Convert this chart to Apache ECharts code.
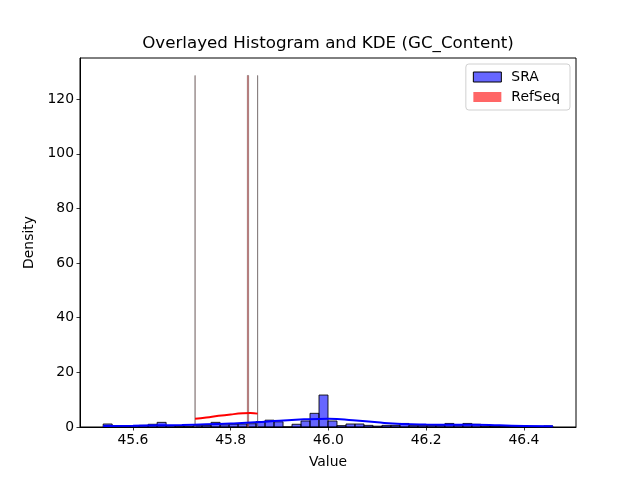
<!DOCTYPE html>
<html>
<head>
<meta charset="utf-8">
<script src="https://cdn.jsdelivr.net/npm/echarts@6/dist/echarts.min.js"></script>
<style>
  html, body { margin: 0; padding: 0; background: #fff; }
  #grafico { width: 640px; height: 480px; }
</style>
</head>
<body>
<div id="grafico"></div>
<script>
	// DADOS DO GRAFICO
	var xTicks = [45.6, 45.8, 46.0, 46.2, 46.4];
	var yTicks = [0, 20, 40, 60, 80, 100, 120];

	// histograma SRA: 50 bins
	var sraBinStart = 45.539;
	var sraBinWidth = 0.0184;
	var sraHeights = [
		1.1, 0.3, 0.3, 0.5, 0.6, 1.0, 1.7, 0.5, 0.3, 0.3,
		0.5, 0.6, 1.7, 0.8, 1.0, 1.1, 1.2, 2.0, 2.5, 1.9,
		0.0, 1.0, 2.2, 5.0, 11.7, 2.2, 0.5, 1.1, 1.1, 0.6,
		0.3, 0.6, 0.6, 1.3, 0.5, 0.5, 0.5, 0.5, 1.3, 0.7,
		1.3, 1.0, 0.3, 0.2, 0.2, 0.2, 0.2, 0.2, 0.2, 0.4
	];

	// histograma RefSeq: barras estreitas [inicio, fim, altura]
	var refBins = [
		[45.7268, 45.7272, 128.7],
		[45.8340, 45.8366, 128.7],
		[45.8548, 45.8552, 128.7]
	];

	// curvas KDE
	var sraKde = [
		[45.539, 0.4], [45.60, 0.5], [45.65, 0.6], [45.70, 0.75], [45.75, 1.0],
		[45.80, 1.3], [45.85, 1.7], [45.90, 2.3], [45.95, 2.8], [46.00, 3.0],
		[46.05, 2.5], [46.10, 1.7], [46.15, 1.1], [46.20, 0.9], [46.25, 0.85],
		[46.30, 0.8], [46.35, 0.6], [46.40, 0.4], [46.459, 0.25]
	];
	var refKde = [
		[45.727, 3.0], [45.75, 3.5], [45.775, 4.1], [45.80, 4.6],
		[45.825, 5.0], [45.84, 5.1], [45.855, 4.9]
	];

	// monta os bins do SRA
	var sraBins = sraHeights.map(function(h, i){
		var x0 = sraBinStart + sraBinWidth * i;
		return [x0, x0 + sraBinWidth, h];
	});

	var fonte = 'DejaVu Sans';

	// desenha um retangulo do histograma
	var desenhaBarra = function(params, api){
		var p0 = api.coord([api.value(0), 0]);
		var p1 = api.coord([api.value(1), api.value(2)]);
		return {
			type: 'rect',
			shape: { x: p0[0], y: p1[1], width: p1[0] - p0[0], height: p0[1] - p1[1] },
			style: api.style()
		};
	};

	var myChart = echarts.init(document.getElementById('grafico'));

	var option = {
		animation: false,
		backgroundColor: '#fff',
		grid: {
			left: 80, right: 64, top: 58, bottom: 53,
			show: true, borderColor: '#000', borderWidth: 1, backgroundColor: 'transparent'
		},
		graphic: [{
			type: 'text',
			x: 328, y: 44,
			style: {
				text: 'Overlayed Histogram and KDE (GC_Content)',
				font: '16.7px "DejaVu Sans"',
				fill: '#000',
				textAlign: 'center',
				textVerticalAlign: 'middle'
			}
		}],
		legend: {
			orient: 'vertical',
			right: 70, top: 64,
			padding: [6, 10, 6, 7],
			itemGap: 6,
			itemWidth: 28, itemHeight: 10,
			backgroundColor: '#fff',
			borderColor: '#d0d0d0', borderWidth: 1, borderRadius: 3,
			textStyle: { fontFamily: fonte, fontSize: 13.9, color: '#000', padding: [0, 0, 0, 5] },
			data: [
				{ name: 'SRA', icon: 'rect', itemStyle: { color: 'rgba(0,0,255,0.6)', borderColor: '#000', borderWidth: 1 } },
				{ name: 'RefSeq', icon: 'rect', itemStyle: { color: 'rgba(255,0,0,0.6)', borderWidth: 0 } }
			]
		},
		xAxis: {
			type: 'value',
			min: 45.4916, max: 46.5064,
			name: 'Value', nameLocation: 'middle', nameGap: 28,
			nameTextStyle: { fontFamily: fonte, fontSize: 13.9, color: '#000' },
			axisLine: { show: true, lineStyle: { color: '#000', width: 1 } },
			axisTick: { show: true, length: 3.5, lineStyle: { color: '#000', width: 0.8 }, customValues: xTicks },
			axisLabel: {
				fontFamily: fonte, fontSize: 13.9, color: '#000', margin: 6,
				customValues: xTicks,
				formatter: function(v){ return v.toFixed(1); }
			},
			splitLine: { show: false }
		},
		yAxis: {
			type: 'value',
			min: 0, max: 135.1,
			name: 'Density', nameLocation: 'middle', nameGap: 42,
			nameTextStyle: { fontFamily: fonte, fontSize: 13.9, color: '#000' },
			axisLine: { show: true, lineStyle: { color: '#000', width: 1 } },
			axisTick: { show: true, length: 3.5, lineStyle: { color: '#000', width: 0.8 }, customValues: yTicks },
			axisLabel: { fontFamily: fonte, fontSize: 13.9, color: '#000', margin: 6, customValues: yTicks },
			splitLine: { show: false }
		},
		series: [
			{
				name: 'SRA',
				type: 'custom',
				renderItem: desenhaBarra,
				encode: { x: [0, 1], y: 2 },
				itemStyle: { color: 'rgba(0,0,255,0.6)', borderColor: 'rgba(0,0,0,0.85)', borderWidth: 1 },
				data: sraBins,
				z: 2
			},
			{
				name: 'RefSeq',
				type: 'custom',
				renderItem: desenhaBarra,
				encode: { x: [0, 1], y: 2 },
				itemStyle: { color: 'rgba(255,0,0,0.6)', borderColor: 'rgba(90,90,90,0.75)', borderWidth: 0.7 },
				data: refBins,
				z: 3
			},
			{
				name: 'SRA_kde',
				type: 'line',
				smooth: true,
				showSymbol: false,
				lineStyle: { color: '#0000ff', width: 2 },
				data: sraKde,
				z: 4
			},
			{
				name: 'RefSeq_kde',
				type: 'line',
				smooth: true,
				showSymbol: false,
				lineStyle: { color: '#ff0000', width: 2 },
				data: refKde,
				z: 4
			}
		]
	};
	// aplico as alterações de layout no chart
	myChart.setOption(option);
</script>
</body>
</html>
